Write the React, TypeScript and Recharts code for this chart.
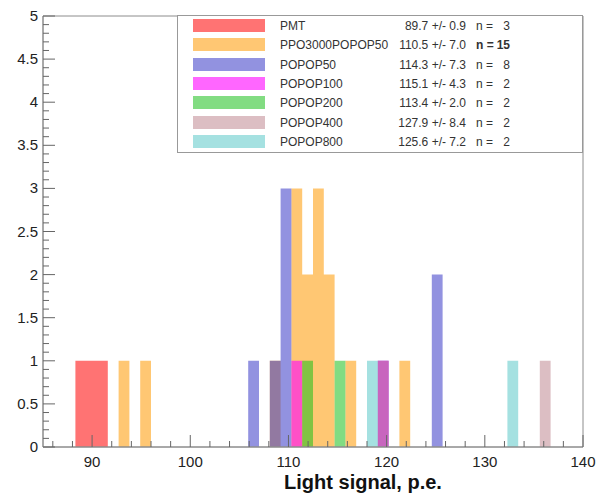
import { ComposedChart, Area, XAxis, YAxis, ReferenceArea, Legend } from "recharts"

const FONT = "'Liberation Sans', Arial, Helvetica, sans-serif"

// histogram binning: 50 bins of 1.1 p.e. from 85 to 140
const X_MIN = 85
const X_MAX = 140
const BIN_WIDTH = 1.1

const X_MAJOR_TICKS = [90, 100, 110, 120, 130, 140]
const X_MINOR_STEP = 2
const Y_MAJOR_TICKS = [0, 0.5, 1, 1.5, 2, 2.5, 3, 3.5, 4, 4.5, 5]
const Y_MINOR_STEP = 0.1

// low edge of each filled bin + its count
const PMT_BINS = [88.3, 89.4, 90.5]
const PMT_COUNTS = [1, 1, 1]
const PPO_BINS = [92.7, 94.9, 108.1, 110.3, 111.4, 112.5, 113.6, 115.8, 121.3]
const PPO_COUNTS = [1, 1, 1, 3, 2, 3, 2, 1, 1]
const P50_BINS = [105.9, 108.1, 109.2, 119.1, 124.6]
const P50_COUNTS = [1, 1, 3, 1, 2]
const P100_BINS = [110.3, 119.1]
const P100_COUNTS = [1, 1]
const P200_BINS = [111.4, 114.7]
const P200_COUNTS = [1, 1]
const P400_BINS = [119.1, 135.6]
const P400_COUNTS = [1, 1]
const P800_BINS = [118.0, 132.3]
const P800_COUNTS = [1, 1]

// legend texts
const SERIES_NAMES = ["PMT", "PPO3000POPOP50", "POPOP50", "POPOP100", "POPOP200", "POPOP400", "POPOP800"]
const SERIES_MEANS = ["89.7", "110.5", "114.3", "115.1", "113.4", "127.9", "125.6"]
const SERIES_ERRORS = ["0.9", "7.0", "7.3", "4.3", "2.0", "8.4", "7.2"]
const SERIES_N = [3, 15, 8, 2, 2, 2, 2]

const SERIES_COLORS = ["#ff0000", "#ff9900", "#3939c7", "#ff00ff", "#1cbf1c", "#bf8992", "#5bc8c8"]
const SERIES_ALPHA = [0.55, 0.55, 0.55, 0.6, 0.55, 0.55, 0.55]

const SERIES = [
  { key: "pmt", bins: PMT_BINS, counts: PMT_COUNTS },
  { key: "ppo", bins: PPO_BINS, counts: PPO_COUNTS },
  { key: "p50", bins: P50_BINS, counts: P50_COUNTS },
  { key: "p100", bins: P100_BINS, counts: P100_COUNTS },
  { key: "p200", bins: P200_BINS, counts: P200_COUNTS },
  { key: "p400", bins: P400_BINS, counts: P400_COUNTS },
  { key: "p800", bins: P800_BINS, counts: P800_COUNTS },
].map((s, i) => ({ ...s, name: SERIES_NAMES[i], color: SERIES_COLORS[i], alpha: SERIES_ALPHA[i] }))

const round2 = (v: number) => Math.round(v * 100) / 100

function buildStepData() {
  const edges = new Set<number>([X_MIN, X_MAX])
  SERIES.forEach((s) =>
    s.bins.forEach((b) => {
      edges.add(round2(b))
      edges.add(round2(b + BIN_WIDTH))
    })
  )
  return [...edges]
    .sort((a, b) => a - b)
    .map((x) => {
      const row: Record<string, number> = { x }
      SERIES.forEach((s) => {
        const i = s.bins.findIndex((b) => x >= b - 1e-6 && x < b + BIN_WIDTH - 1e-6)
        row[s.key] = i >= 0 ? s.counts[i] : 0
      })
      return row
    })
}

const data = buildStepData()

const xTicks: number[] = []
for (let v = 86; v <= X_MAX + 1e-6; v += X_MINOR_STEP) xTicks.push(v)
const yTicks: number[] = []
for (let i = 0; i <= Math.round(5 / Y_MINOR_STEP); i++) yTicks.push(round2(i * Y_MINOR_STEP))

function XTick(props: any) {
  const { x, y, payload } = props
  const major = X_MAJOR_TICKS.includes(payload.value)
  return (
    <g>
      <line x1={x} x2={x} y1={y} y2={y - (major ? 12 : 6)} stroke="#666" strokeWidth={1} />
      {major && (
        <text x={x} y={y + 20} textAnchor="middle" fontSize={15} fontFamily={FONT} fill="#222">
          {payload.value}
        </text>
      )}
    </g>
  )
}

function YTick(props: any) {
  const { x, y, payload } = props
  const major = Y_MAJOR_TICKS.includes(payload.value)
  return (
    <g>
      <line x1={x} x2={x + (major ? 12 : 6)} y1={y} y2={y} stroke="#666" strokeWidth={1} />
      {major && (
        <text x={x - 5} y={y + 5} textAnchor="end" fontSize={15} fontFamily={FONT} fill="#222">
          {payload.value}
        </text>
      )}
    </g>
  )
}

function LegendBox() {
  return (
    <div
      style={{
        position: "relative",
        width: 406,
        height: 138,
        boxSizing: "border-box",
        border: "1px solid #999",
        background: "#fff",
        fontFamily: FONT,
        fontSize: 12,
        color: "#333",
      }}
    >
      {SERIES.map((s, i) => {
        const bold = SERIES_N[i] > 9 ? 700 : 400
        return (
          <div key={s.key} style={{ position: "absolute", left: 0, top: 3 + i * 19.3, width: "100%", height: 14, lineHeight: "14px" }}>
            <span
              style={{ position: "absolute", left: 15, top: 0, width: 72, height: 13, background: s.color, opacity: s.alpha }}
            />
            <span style={{ position: "absolute", left: 102, top: 0 }}>{s.name}</span>
            <span style={{ position: "absolute", right: 116, top: 0 }}>
              {SERIES_MEANS[i]} +/- {SERIES_ERRORS[i]}
            </span>
            <span style={{ position: "absolute", left: 298, top: 0, fontWeight: bold }}>n =</span>
            <span style={{ position: "absolute", right: 72, top: 0, fontWeight: bold }}>{SERIES_N[i]}</span>
          </div>
        )
      })}
    </div>
  )
}

export default function App() {
  return (
    <div style={{ position: "absolute", left: 0, top: 0, width: 598, height: 494, background: "#fff" }}>
      <ComposedChart width={598} height={494} data={data} margin={{ top: 16, right: 15, bottom: 0, left: 0 }}>
        {SERIES.map((s) => (
          <Area
            key={s.key}
            type="stepAfter"
            dataKey={s.key}
            fill={s.color}
            fillOpacity={s.alpha}
            stroke="none"
            dot={false}
            activeDot={false}
            isAnimationActive={false}
          />
        ))}
        <ReferenceArea x1={X_MIN} x2={X_MAX} y1={0} y2={5} fill="none" stroke="#8c8c8c" strokeWidth={1} ifOverflow="visible" />
        <XAxis
          type="number"
          dataKey="x"
          domain={[X_MIN, X_MAX]}
          allowDataOverflow
          ticks={xTicks}
          interval={0}
          tickSize={0}
          tickMargin={0}
          tickLine={false}
          tick={<XTick />}
          axisLine={{ stroke: "#8c8c8c" }}
          height={47}
          label={{
            content: () => (
              <text x={363} y={489} textAnchor="middle" fontSize={20} fontWeight={700} fontFamily={FONT} fill="#111">
                Light signal, p.e.
              </text>
            ),
          }}
        />
        <YAxis
          type="number"
          domain={[0, 5]}
          allowDataOverflow
          ticks={yTicks}
          interval={0}
          tickSize={0}
          tickMargin={0}
          tickLine={false}
          tick={<YTick />}
          axisLine={{ stroke: "#8c8c8c" }}
          width={43}
        />
        <Legend
          layout="vertical"
          align="center"
          verticalAlign="middle"
          wrapperStyle={{ left: 177, top: 15, width: 406 }}
          content={() => <LegendBox />}
        />
      </ComposedChart>
    </div>
  )
}
